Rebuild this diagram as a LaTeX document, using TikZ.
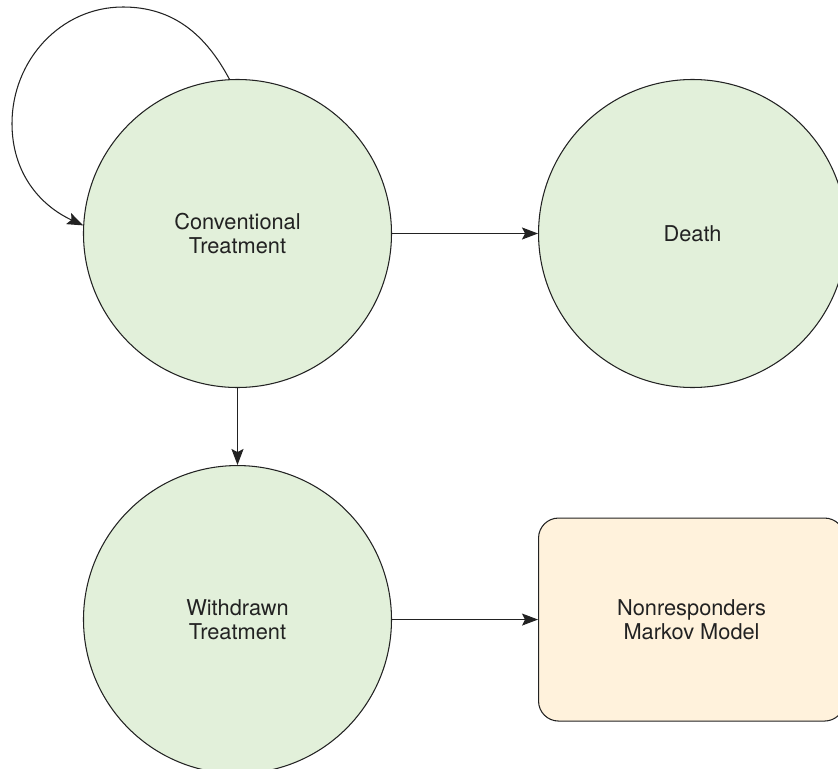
\documentclass[tikz,border=0pt]{standalone}
\usepackage{fontspec}
\setmainfont{TeX Gyre Heros}
\usepackage{tikz}
\usetikzlibrary{arrows.meta,positioning,calc}
\definecolor{stategreen}{RGB}{226,240,218}
\definecolor{modelorange}{RGB}{255,242,220}
\definecolor{edgegray}{RGB}{34,34,34}
\tikzset{
    state/.style={draw=edgegray, circle, fill=stategreen, minimum size=6.16cm, inner sep=0pt, align=center, text=edgegray, line width=0.6pt, font=\fontsize{12.4}{13.9}\selectfont},
    model/.style={draw=edgegray, rectangle, rounded corners=0.4cm, fill=modelorange, minimum width=6.12cm, minimum height=4.06cm, align=center, text=edgegray, line width=0.6pt, font=\fontsize{12.4}{13.9}\selectfont},
    trans/.style={-{Stealth[length=3.2mm, width=2.4mm, inset=0.6mm]}, line width=0.6pt, edgegray}
}

\begin{document}
\begin{tikzpicture}[node distance=2.92cm]
                \useasboundingbox (-4.75,4.67) rectangle (12.01,-10.71);
                \node[state] (conv) {Conventional\\Treatment};
                \node[state, right=of conv] (death) {Death};
                \node[state, below=1.54cm of conv] (withdrawn) {Withdrawn\\Treatment};
                \node[model, right=of withdrawn] (nonresp) {Nonresponders\\Markov Model};
                \coordinate (looptop) at ($(conv)+(-2.29,4.53)$);
                \coordinate (loopleft) at ($(conv)+(-4.51,2.2)$);
                \draw[trans] (conv.93) to[out=118,in=0] (looptop) to[out=180,in=90] (loopleft) to[out=270,in=155] (conv.177);
                \draw[trans] (conv) -- (death);
                \draw[trans] (conv) -- (withdrawn);
                \draw[trans] (withdrawn) -- (nonresp);
            \end{tikzpicture}
\end{document}
